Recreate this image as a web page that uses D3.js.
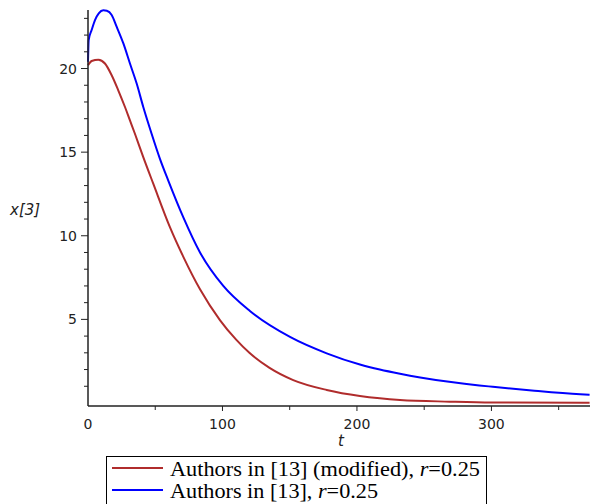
<!DOCTYPE html>
<html>
<head>
<meta charset="utf-8">
<title></title>
<style type="text/css">
body { margin: 0; background: #fff; }
.tick-label { font: 14px "DejaVu Sans", sans-serif; fill: #222; }
.axis-title { font: italic 15px "DejaVu Sans", sans-serif; fill: #222; }
.legend text { font: 20px "Liberation Serif", serif; fill: #000; }
</style>
</head>
<body>
<svg width="590" height="504"></svg>
<script src="https://d3js.org/d3.v7.min.js"></script>
<script type="text/javascript">
// blue curve: Authors in [13]
var blueT = [0, 0.5, 2.7, 5.2, 8, 11.4, 14, 17.6, 21.3, 26.3, 31.2, 36.2, 41.1, 47.3, 53.5, 59.7, 70.9, 83.3, 100.6, 120.4, 150.2, 177.5, 202.2, 217, 232, 247, 270, 291, 301, 330, 366, 373];
var blueV = [20.4, 21.7, 22.3, 22.9, 23.3, 23.48, 23.45, 23.2, 22.5, 21.5, 20.3, 19.1, 17.7, 16.1, 14.6, 13.3, 11.1, 9.0, 7.0, 5.5, 3.95, 2.97, 2.3, 2.0, 1.75, 1.53, 1.25, 1.05, 0.97, 0.75, 0.52, 0.49];
// red curve: Authors in [13] (modified)
var redT = [0, 2.7, 7.7, 12.6, 17.6, 22.5, 27.5, 31.2, 34.9, 41.1, 48.6, 61, 70.9, 83.3, 98.1, 110, 120, 135, 152.6, 177.5, 202.2, 217, 232, 269, 300, 373];
var redV = [20.2, 20.45, 20.53, 20.3, 19.6, 18.7, 17.7, 16.9, 16.1, 14.7, 13.1, 10.5, 8.74, 6.8, 4.96, 3.8, 3.0, 2.1, 1.37, 0.78, 0.42, 0.28, 0.18, 0.08, 0.03, 0.02];

var xTicks = [0, 100, 200, 300];
var xMinor = [50, 150, 250, 350];
var yTicks = [5, 10, 15, 20];
var yMinor = [1, 2, 3, 4, 6, 7, 8, 9, 11, 12, 13, 14, 16, 17, 18, 19, 21, 22, 23];

var legendLabels = ["Authors in [13] (modified), ", "Authors in [13], "];
var legendColors = ["#b02c2c", "#0000ff"];

var svg = d3.select("svg");

var x = d3.scaleLinear().domain([0, 373.3]).range([88, 590]);
var y = d3.scaleLinear().domain([-0.18, 23.5]).range([406, 10]);

var line = d3.line()
    .x(function(d) { return x(d[0]); })
    .y(function(d) { return y(d[1]); })
    .curve(d3.curveMonotoneX);

// curves
svg.append("path")
    .datum(d3.zip(redT, redV))
    .attr("fill", "none")
    .attr("stroke", legendColors[0])
    .attr("stroke-width", 2)
    .attr("d", line);

svg.append("path")
    .datum(d3.zip(blueT, blueV))
    .attr("fill", "none")
    .attr("stroke", legendColors[1])
    .attr("stroke-width", 2)
    .attr("d", line);

// x axis
var xAxis = svg.append("g").attr("transform", "translate(0,406)");
xAxis.append("line")
    .attr("x1", 88).attr("x2", 590)
    .attr("stroke", "#222").attr("stroke-width", 1.5);
xAxis.selectAll(".major").data(xTicks.slice(1)).enter().append("line")
    .attr("x1", function(d) { return x(d); }).attr("x2", function(d) { return x(d); })
    .attr("y1", 0).attr("y2", 5)
    .attr("stroke", "#222");
xAxis.selectAll(".minor").data(xMinor).enter().append("line")
    .attr("x1", function(d) { return x(d); }).attr("x2", function(d) { return x(d); })
    .attr("y1", 0).attr("y2", 4)
    .attr("stroke", "#222");
xAxis.selectAll("text").data(xTicks).enter().append("text")
    .attr("class", "tick-label")
    .attr("x", function(d) { return x(d); })
    .attr("y", 23)
    .attr("text-anchor", "middle")
    .text(function(d) { return d; });

// y axis
var yAxis = svg.append("g").attr("transform", "translate(88,0)");
yAxis.append("line")
    .attr("y1", 10).attr("y2", 406)
    .attr("stroke", "#222").attr("stroke-width", 1.5);
yAxis.selectAll(".major").data(yTicks).enter().append("line")
    .attr("y1", function(d) { return y(d); }).attr("y2", function(d) { return y(d); })
    .attr("x1", -7).attr("x2", 0)
    .attr("stroke", "#222");
yAxis.selectAll(".minor").data(yMinor).enter().append("line")
    .attr("y1", function(d) { return y(d); }).attr("y2", function(d) { return y(d); })
    .attr("x1", -4).attr("x2", 0)
    .attr("stroke", "#222");
yAxis.selectAll("text").data(yTicks).enter().append("text")
    .attr("class", "tick-label")
    .attr("x", -11)
    .attr("y", function(d) { return y(d) + 5; })
    .attr("text-anchor", "end")
    .text(function(d) { return d; });

// axis titles
svg.append("text").attr("class", "axis-title")
    .attr("x", 341).attr("y", 446)
    .attr("text-anchor", "middle")
    .text("t");
svg.append("text").attr("class", "axis-title")
    .attr("x", 10).attr("y", 215)
    .text("x[3]");

// legend
var legend = svg.append("g").attr("class", "legend");
legend.append("rect")
    .attr("x", 106.5).attr("y", 456.5)
    .attr("width", 380).attr("height", 50)
    .attr("fill", "#fff").attr("stroke", "#000");
var rows = legend.selectAll(".row").data(legendLabels).enter().append("g")
    .attr("transform", function(d, i) { return "translate(0," + (468 + i * 22) + ")"; });
rows.append("line")
    .attr("x1", 112).attr("x2", 163)
    .attr("stroke", function(d, i) { return legendColors[i]; })
    .attr("stroke-width", 2);
var txt = rows.append("text")
    .attr("x", 170).attr("y", 7.5)
    .attr("textLength", function(d, i) { return i === 0 ? 310 : 208; })
    .attr("lengthAdjust", "spacingAndGlyphs");
txt.append("tspan").text(function(d) { return d; });
txt.append("tspan").style("font-style", "italic").text("r");
txt.append("tspan").text("=0.25");
</script>
</body>
</html>
